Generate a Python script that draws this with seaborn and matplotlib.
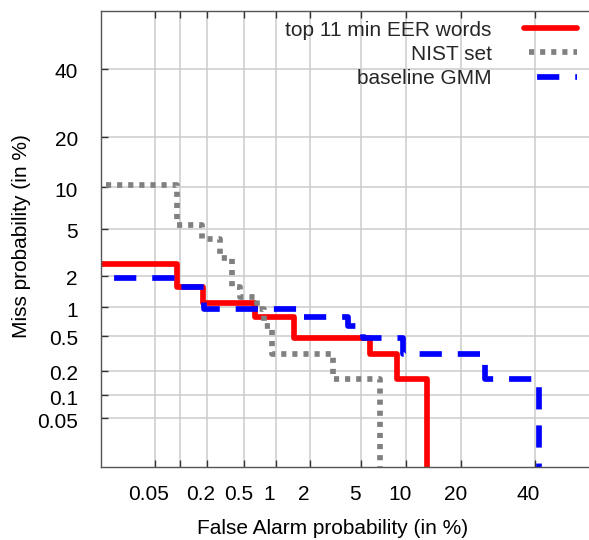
"""
    DET curves (probit axes)
"""
import numpy as np
import matplotlib
matplotlib.use("Agg")
import matplotlib.pyplot as plt
import matplotlib.transforms as mtransforms
import seaborn as sns
from statistics import NormalDist

# values in %, steps-post: miss level holds until the next false alarm value
red_fa = [0.01, 0.0914, 0.184, 0.638, 1.478, 5.81, 8.82, 13.2]
red_miss = [2.54, 1.59, 1.10, 0.794, 0.476, 0.317, 0.159, 1e-5]

gray_fa = [0.01, 0.0914, 0.178, 0.277, 0.372, 0.447, 0.667, 0.78, 0.922, 3.08, 6.80]
gray_miss = [10.3, 5.40, 4.13, 2.86, 1.59, 1.27, 0.952, 0.635, 0.317, 0.159, 1e-5]

blue_fa = [0.01, 0.0914, 0.186, 1.657, 4.06, 5.22, 9.61, 25.8, 41.4]
blue_miss = [1.90, 1.59, 0.952, 0.794, 0.635, 0.476, 0.317, 0.159, 1e-5]

labels = ["top 11 min EER words", "NIST set", "baseline GMM"]
ticks = [0.05, 0.1, 0.2, 0.5, 1, 2, 5, 10, 20, 40]
xtick_labels = ["0.05", "", "0.2", "0.5", "1", "2", "5", "10", "20", "40"]
ytick_labels = ["0.05", "0.1", "0.2", "0.5", "1", "2", "5", "10", "20", "40"]

_nd = NormalDist()


def probit(p):
    p = np.asarray(p, dtype=float) / 100.0
    bad = ~np.isfinite(p)
    p = np.clip(np.where(bad, 0.5, p), 1e-12, 1 - 1e-12)
    out = np.vectorize(_nd.inv_cdf, otypes=[float])(p)
    return np.where(bad, np.nan, out)


def inv_probit(z):
    z = np.asarray(z, dtype=float)
    return np.vectorize(_nd.cdf, otypes=[float])(z) * 100.0


sns.set_theme(style="white")
plt.rcParams["font.family"] = ["Liberation Sans", "DejaVu Sans"]

fig = plt.figure(figsize=(5.89, 5.4), dpi=100)
ax = fig.add_axes([0.1722, 0.1346, 0.8431, 0.8456])

fs = 15
lw = 4.1
sns.lineplot(x=red_fa, y=red_miss, ax=ax, color="#ff0000", lw=lw, sort=False,
             estimator=None, drawstyle="steps-post", label=labels[0])
sns.lineplot(x=gray_fa, y=gray_miss, ax=ax, color="#808080", lw=lw, sort=False,
             estimator=None, drawstyle="steps-post", label=labels[1],
             linestyle=(1.07, (0.9, 1.05)))
sns.lineplot(x=blue_fa, y=blue_miss, ax=ax, color="#0000ff", lw=lw, sort=False,
             estimator=None, drawstyle="steps-post", label=labels[2],
             linestyle=(4.4, (3.9, 2.8)))

ax.set_xscale("function", functions=(probit, inv_probit))
ax.set_yscale("function", functions=(probit, inv_probit))
ax.set_xlim(0.01, 60)
ax.set_ylim(0.01, 60)

ax.set_xticks(ticks)
ax.set_xticklabels(xtick_labels)
ax.set_yticks(ticks)
ax.set_yticklabels(ytick_labels)
ax.minorticks_off()

ax.grid(True, color="#cccccc", lw=1.1)
ax.set_axisbelow(True)
for side in ["left", "bottom", "top"]:
    ax.spines[side].set_color("#555555")
    ax.spines[side].set_linewidth(1.0)
ax.spines["right"].set_visible(False)

ax.tick_params(axis="x", direction="in", length=5, width=1, color="#333333",
               top=True, bottom=True, labelsize=fs, pad=13, labelcolor="black")
ax.tick_params(axis="y", direction="in", length=5, width=1, color="#333333",
               left=True, labelsize=fs, pad=17, labelcolor="black")

# gnuplot-style label offsets
dx = mtransforms.ScaledTranslation(-6 / 100, 0, fig.dpi_scale_trans)
for lbl in ax.get_xticklabels():
    lbl.set_transform(lbl.get_transform() + dx)
dy = mtransforms.ScaledTranslation(0, -2 / 100, fig.dpi_scale_trans)
for lbl in ax.get_yticklabels():
    lbl.set_transform(lbl.get_transform() + dy)

ax.set_xlabel("False Alarm probability (in %)", fontsize=fs, color="black")
ax.set_ylabel("Miss probability (in %)", fontsize=fs, color="black")
ax.xaxis.set_label_coords(0.466, -0.113)
ax.yaxis.set_label_coords(-0.142, 0.507)

ax.legend(loc="upper right", bbox_to_anchor=(0.9796, 0.962),
          bbox_transform=fig.transFigure, frameon=False, fontsize=fs,
          markerfirst=False, handlelength=2.55, handletextpad=1.55,
          labelspacing=0.25, borderpad=0, borderaxespad=0)

fig.savefig("out.png", dpi=100)
